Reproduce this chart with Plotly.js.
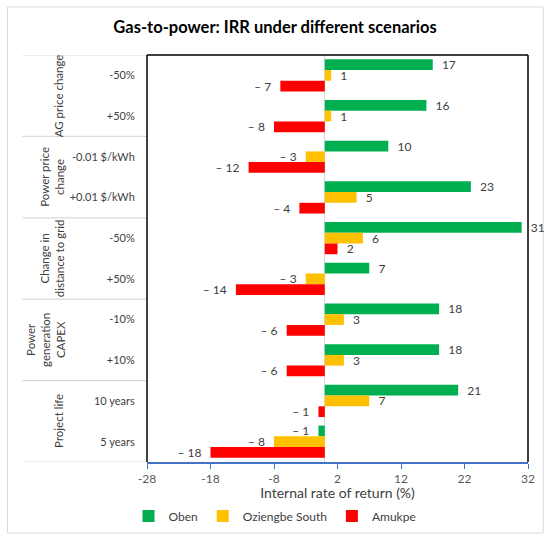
<!DOCTYPE html>
<html>
<head>
<meta charset="utf-8">
<script src="https://cdn.plot.ly/plotly-3.0.1.min.js"></script>
<style>html,body{margin:0;padding:0;background:#fff;}#chart{width:550px;height:542px;}</style>
</head>
<body>
<div id="chart"></div>
<script>
// ---- data ----
const groups = ["AG price change", "Power price<br>change", "Change in<br>distance to grid", "Power<br>generation<br>CAPEX", "Project life"];
const scenarios = ["-50%", "+50%", "-0.01 $/kWh", "+0.01 $/kWh", "-50%", "+50%", "-10%", "+10%", "10 years", "5 years"];
const groupOf = [0, 0, 1, 1, 2, 2, 3, 3, 4, 4];
const oben = [17, 16, 10, 23, 31, 7, 18, 18, 21, -1];
const oziengbe = [1, 1, -3, 5, 6, -3, 3, 3, 7, -8];
const amukpe = [-7, -8, -12, -4, 2, -14, -6, -6, -1, -18];
const seriesNames = ["Oben", "Oziengbe South", "Amukpe"];
const seriesColors = ["#00b050", "#ffc000", "#ff0000"];
const xTicks = [-28, -18, -8, 2, 12, 22, 32];

// ---- build ----
const keys = scenarios.map((s, i) => groupOf[i] + "|" + s);
const NB = "\u00a0";
function lab(v) {
  return v < 0 ? "\u2013 " + Math.abs(v) + NB + NB : NB + NB + v;
}
const allSeries = [oben, oziengbe, amukpe];
const traces = allSeries.map((vals, k) => ({
  type: "bar",
  orientation: "h",
  name: seriesNames[k],
  x: vals,
  y: keys,
  marker: { color: seriesColors[k] },
  text: vals.map(lab),
  textposition: "outside",
  constraintext: "none",
  cliponaxis: false,
  textfont: { family: "Lato, sans-serif", size: 12, color: "#404040" },
  hoverinfo: "skip"
}));

const font = "Lato, sans-serif";
const annotations = groups.map((g, gi) => {
  const nlines = g.split("<br>").length;
  const xc = nlines === 1 ? -0.232 : (nlines === 2 ? -0.25 : -0.265);
  return {
    text: g, xref: "paper", yref: "y", x: xc, y: 2 * gi + 0.5,
    xanchor: "center", yanchor: "middle", textangle: -90, showarrow: false,
    font: { family: font, size: 11.5, color: "#404040" }
  };
});

const shapes = [];
shapes.push({ type: "rect", xref: "paper", yref: "paper", x0: -0.366, x1: 1.040, y0: -0.1744, y1: 1.118,
  line: { color: "#d9d9d9", width: 1 }, layer: "below" });
const bounds = [-0.5, 1.5, 3.5, 5.5, 7.5, 9.5];
bounds.forEach(b => shapes.push({ type: "line", xref: "paper", yref: "y", x0: -0.3266, x1: 0, y0: b, y1: b,
  line: { color: "#d9d9d9", width: 1.2 } }));
shapes.push({ type: "line", xref: "paper", yref: "paper", x0: 0, x1: 1, y0: 1, y1: 1, line: { color: "#000", width: 1.5 } });
shapes.push({ type: "line", xref: "paper", yref: "paper", x0: 0, x1: 0, y0: 0, y1: 1, line: { color: "#000", width: 1.5 } });
shapes.push({ type: "line", xref: "paper", yref: "paper", x0: 1, x1: 1, y0: 0, y1: 1, line: { color: "#000", width: 1.5 } });

const layout = {
  width: 550, height: 542,
  margin: { l: 146.5, r: 22.3, t: 55, b: 80, autoexpand: false },
  paper_bgcolor: "#fff", plot_bgcolor: "#fff",
  font: { family: font, color: "#404040" },
  title: { text: "<b>Gas-to-power: IRR under different scenarios</b>", x: 0.5, xref: "container", xanchor: "center",
    y: 0.95, yref: "container", yanchor: "middle", font: { family: font, size: 16.5, color: "#000" } },
  barmode: "group", bargap: 0.21, bargroupgap: 0,
  showlegend: true,
  legend: { orientation: "h", xref: "container", x: 0.5, xanchor: "center", yref: "container", y: 0.048, yanchor: "middle",
    font: { family: font, size: 12, color: "#404040" }, tracegroupgap: 0, itemwidth: 30 },
  xaxis: {
    automargin: false,
    range: [-28, 32], tickvals: xTicks, ticktext: xTicks.map(String),
    showgrid: false, zeroline: true, zerolinecolor: "#d9d9d9", zerolinewidth: 1,
    showline: true, linecolor: "#4472c4", linewidth: 1.5,
    ticks: "outside", tickcolor: "#4472c4", ticklen: 5, tickwidth: 1,
    tickfont: { family: font, size: 12, color: "#595959" },
    title: { text: "Internal rate of return (%)", standoff: 10, font: { family: font, size: 14, color: "#404040" } },
    fixedrange: true
  },
  yaxis: {
    automargin: false,
    type: "category", categoryorder: "array", categoryarray: keys,
    range: [9.5, -0.5], tickvals: keys, ticktext: scenarios,
    showgrid: false, zeroline: false, showline: false,
    ticks: "outside", ticklen: 9, tickcolor: "rgba(0,0,0,0)",
    tickfont: { family: font, size: 11, color: "#404040" },
    fixedrange: true
  },
  annotations: annotations,
  shapes: shapes
};

Plotly.newPlot("chart", traces, layout, { displayModeBar: false, staticPlot: true });
</script>
</body>
</html>
